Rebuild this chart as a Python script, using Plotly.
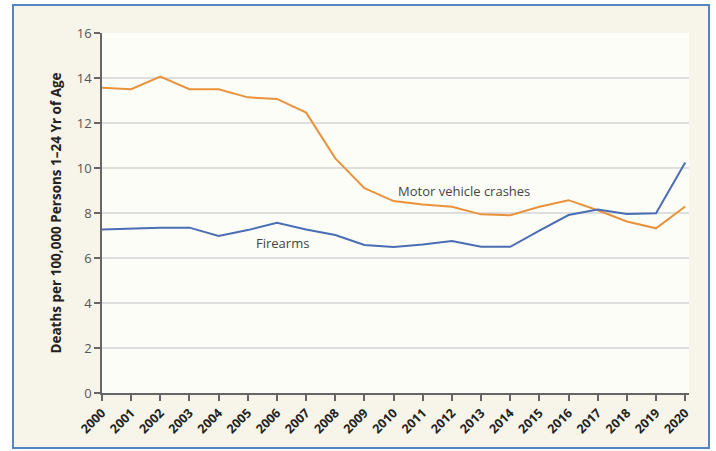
import plotly.graph_objects as go

years = list(range(2000, 2021))
motor_vehicle = [13.57, 13.5, 14.06, 13.5, 13.5, 13.14, 13.07, 12.46, 10.43, 9.1, 8.53,
                 8.38, 8.28, 7.94, 7.9, 8.28, 8.57, 8.12, 7.62, 7.32, 8.29]
firearms = [7.27, 7.32, 7.35, 7.35, 6.98, 7.24, 7.57, 7.27, 7.02, 6.58, 6.49,
            6.6, 6.76, 6.5, 6.5, 7.22, 7.91, 8.15, 7.96, 7.99, 10.24]
y_ticks = [0, 2, 4, 6, 8, 10, 12, 14, 16]
y_title = "Deaths per 100,000 Persons 1\u201324 Yr of Age"

W, H = 716, 451
L, R, T, B = 102, 27, 33, 58
pw, ph = W - L - R, H - T - B

def px_x(p):
    return (p - L) / pw

def px_y(p):
    return (H - B - p) / ph

FONT = "Open Sans"

fig = go.Figure()
fig.add_trace(go.Scatter(x=years, y=motor_vehicle, mode="lines",
                         line=dict(color="#e9923c", width=2), name="Motor vehicle crashes"))
fig.add_trace(go.Scatter(x=years, y=firearms, mode="lines",
                         line=dict(color="#4a6db4", width=2), name="Firearms"))

shapes = [
    # cream frame with blue border
    dict(type="rect", xref="paper", yref="paper", layer="below",
         x0=px_x(13), x1=px_x(709), y0=px_y(448), y1=px_y(5),
         fillcolor="#f7f5ea", line=dict(color="#5285c2", width=2)),
    # plot area background
    dict(type="rect", xref="paper", yref="paper", layer="below",
         x0=0, x1=1, y0=0, y1=1, fillcolor="#fdfdf8", line=dict(width=0)),
]

fig.update_layout(
    width=W, height=H,
    margin=dict(l=L, r=R, t=T, b=B, pad=0),
    paper_bgcolor="white",
    plot_bgcolor="#fdfdf8",
    showlegend=False,
    shapes=shapes,
    font=dict(family=FONT, color="#444"),
    annotations=[
        dict(x=2012.42, y=8.99, text="Motor vehicle crashes", showarrow=False,
             font=dict(family=FONT, size=13, color="#444")),
        dict(x=2006.19, y=6.68, text="Firearms", showarrow=False,
             font=dict(family=FONT, size=13, color="#444")),
    ],
)

fig.update_xaxes(
    range=[2000, 2020.13], tickvals=years, ticktext=[str(y) for y in years],
    tickangle=-45, tickfont=dict(family=FONT, size=12.5, color="#222", weight="bold"),
    showgrid=False, zeroline=False, showline=True, linecolor="#666", linewidth=1.5,
    ticks="outside", ticklen=6, tickcolor="#666", tickwidth=1.5,
)
fig.update_yaxes(
    range=[0, 16], tickvals=y_ticks,
    tickfont=dict(family=FONT, size=13, color="#555"),
    showgrid=True, gridcolor="#dedede", gridwidth=1.5, zeroline=False,
    showline=True, linecolor="#666", linewidth=1.5,
    ticks="outside", ticklen=6, tickcolor="#666", tickwidth=1.5,
    title=dict(text=y_title, font=dict(family=FONT, size=13.5, color="#222", weight="bold"),
               standoff=12),
)

fig.write_html("out.html")
